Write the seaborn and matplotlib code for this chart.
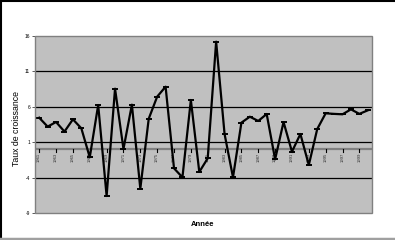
import matplotlib
matplotlib.use("Agg")
import matplotlib.pyplot as plt
from matplotlib.patches import Rectangle
import seaborn as sns
import pandas as pd

years = list(range(1961, 2001))
growth = [4.46, 3.2, 3.85, 2.5, 4.23, 2.96, -1.13, 6.25, -6.6, 8.56,
          0.04, 6.3, -5.56, 4.32, 7.43, 8.84, -2.69, -3.96, 6.96, -3.2,
          -1.28, 15.2, 2.16, -3.96, 3.76, 4.6, 4.0, 4.98, -1.42, 3.85,
          -0.34, 2.16, -2.22, 2.86, 5.08, 5.0, 4.94, 5.64, 5.0, 5.5]
yticks = [-9, -4, 1, 6, 11, 16]
label_years = years[::2]

plt.rcParams['font.family'] = ['Liberation Sans', 'DejaVu Sans']

df = pd.DataFrame({"pos": range(len(years)), "Année": years, "Taux": growth})

fig = plt.figure(figsize=(3.95, 2.4), dpi=100)
ax = fig.add_axes([35/395, 1-213/240, (372-35)/395, (213-36)/240])
ax.set_facecolor('#C0C0C0')

for g in [11, 6, 1, -4]:
    ax.axhline(g, color='black', lw=0.9, zorder=1)
ax.axhline(0, color='#808080', lw=1.6, zorder=1)

sns.lineplot(data=df, x="pos", y="Taux", ax=ax, color='black', lw=1.6,
             marker='_', markersize=5, markeredgewidth=1.4,
             markeredgecolor='black', zorder=3)

ax.set_xlim(-0.5, len(years) - 0.5)
ax.set_ylim(-9, 16)
ax.set_yticks(yticks)
ax.set_yticklabels([str(t) for t in yticks], fontsize=3.5)
ax.tick_params(axis='y', length=2, width=0.6, pad=1.5, color='#404040')

ax.set_xticks([])
ax.set_xlabel('')
ax.set_ylabel('')
for s in ax.spines.values():
    s.set_visible(False)
ax.add_patch(Rectangle((0, 0), 1, 1, transform=ax.transAxes, fill=False,
                       ec='#808080', lw=1.0, zorder=4, clip_on=False))

# category axis crossing at 0
for i, yr in enumerate(years):
    if i % 2 == 0:
        ax.plot([i, i], [0, -0.35], color='black', lw=0.8, zorder=2,
                clip_on=False)
        ax.text(i, -0.45, str(yr), rotation=90, ha='center', va='top',
                fontsize=3, color='#303030', zorder=2)

fig.text(17/395, 1-129/240, 'Taux de croissance', rotation=90,
         ha='center', va='center', fontsize=6.3)
fig.text(203/395, 1-224/240, 'Année', ha='center', va='center',
         fontsize=5.5, fontweight='bold')

# chart-area border
fig.add_artist(plt.Line2D([0, 1], [1-0.5/240, 1-0.5/240],
                          transform=fig.transFigure, color='black', lw=1.5))
fig.add_artist(plt.Line2D([0.6/395, 0.6/395], [0, 1],
                          transform=fig.transFigure, color='black', lw=1.5))
fig.add_artist(plt.Line2D([0, 1], [1.2/240, 1.2/240],
                          transform=fig.transFigure, color='#A0A0A0', lw=2.5))

fig.savefig('out.png', dpi=100)
